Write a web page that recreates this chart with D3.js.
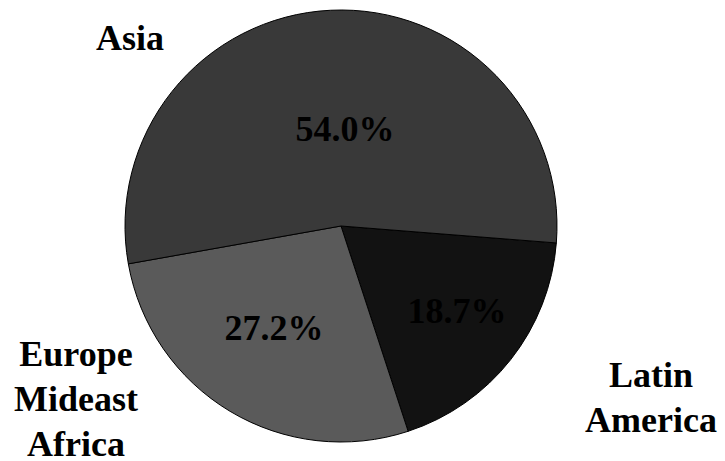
<!DOCTYPE html>
<html><head><meta charset="utf-8">
<script src="https://cdn.jsdelivr.net/npm/d3@7"></script>
<style>body{margin:0;background:#fff}svg{display:block}</style>
</head><body>
<script>
const categories = ["Latin America", "Europe Mideast Africa", "Asia"];
const values = [18.7, 27.2, 54.0];
const pctLabels = ["18.7%", "27.2%", "54.0%"];
const nameLines = [["Latin", "America"], ["Europe", "Mideast", "Africa"], ["Asia"]];
const colors = ["#121212", "#5a5a5a", "#393939"];

const W = 725, H = 461;
const cx = 341, cy = 226, R = 216;
const svg = d3.select("body").append("svg").attr("width", W).attr("height", H);
const g = svg.append("g").attr("transform", `translate(${cx},${cy})`);

const startA = 94.5 * Math.PI / 180;
const pie = d3.pie().sort(null).value(d => d)
  .startAngle(startA).endAngle(startA + 2 * Math.PI);
const arcs = pie(values);
const arc = d3.arc().innerRadius(0).outerRadius(R);

g.selectAll("path").data(arcs).join("path")
  .attr("d", arc)
  .attr("fill", (d, i) => colors[i])
  .attr("stroke", "#000").attr("stroke-width", 1);

function styleText(sel) {
  return sel.style("font-family", '"Liberation Serif"')
    .style("font-weight", "bold").style("font-size", "36px")
    .attr("fill", "#000").attr("text-anchor", "middle");
}

// percent labels
const pctPos = [[116, 97], [-67, 114], [4, -85]];
g.selectAll("text.pct").data(arcs).join("text")
  .attr("class", "pct")
  .attr("x", (d, i) => pctPos[i][0]).attr("y", (d, i) => pctPos[i][1])
  .call(styleText)
  .text((d, i) => pctLabels[i]);

// outside labels
const namePos = [[651, 387], [76, 366], [130, 50]];
const lh = 45;
categories.forEach((c, i) => {
  const t = svg.append("text").call(styleText);
  nameLines[i].forEach((ln, j) => {
    t.append("tspan").attr("x", namePos[i][0]).attr("y", namePos[i][1] + j * lh).text(ln);
  });
});
</script>
</body></html>
